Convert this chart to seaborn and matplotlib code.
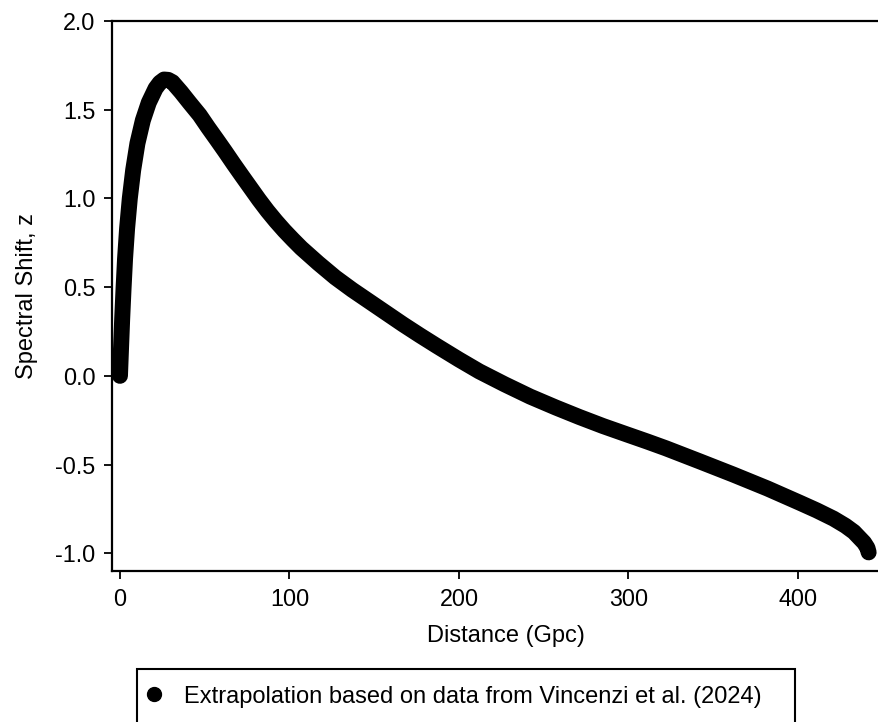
import matplotlib
matplotlib.use("Agg")
import numpy as np
import pandas as pd
import seaborn as sns
import matplotlib.pyplot as plt
from matplotlib.lines import Line2D

# Data
distance_gpc = [0, 0.6, 1.3, 2.1, 3.0, 4.2, 5.8, 7.8, 10.3, 13.5, 17.0, 21.0, 23.5,
                26.0, 28.5, 31.0, 36.0, 41.0, 47.0, 52.0, 57.0, 62.0, 67.0, 72.0,
                77.0, 82.0, 87.0, 92.0, 97.0, 102.0, 107.0, 117.0, 127.0, 137.0,
                147.0, 157.0, 167.0, 177.0, 187.0, 200.0, 212.0, 227.0, 242.0,
                257.0, 271.0, 285.0, 299.0, 311.0, 322.0, 342.0, 362.0, 382.0,
                401.0, 411.0, 421.0, 428.0, 433.0, 436.0, 439.0, 441.0, 441.7]
spectral_shift = [0.0, 0.15, 0.32, 0.49, 0.66, 0.83, 1.0, 1.16, 1.31, 1.44, 1.54,
                  1.62, 1.652, 1.67, 1.668, 1.655, 1.60, 1.54, 1.47, 1.40, 1.333,
                  1.265, 1.195, 1.127, 1.06, 0.993, 0.93, 0.872, 0.818, 0.768, 0.72,
                  0.635, 0.555, 0.485, 0.42, 0.355, 0.29, 0.228, 0.168, 0.092, 0.025,
                  -0.048, -0.117, -0.178, -0.232, -0.283, -0.33, -0.37, -0.408,
                  -0.482, -0.557, -0.635, -0.715, -0.758, -0.805, -0.845, -0.88,
                  -0.91, -0.94, -0.97, -0.995]

x_ticks = [0, 100, 200, 300, 400]
x_tick_labels = ["0", "100", "200", "300", "400"]
y_ticks = [-1.0, -0.5, 0.0, 0.5, 1.0, 1.5, 2.0]
y_tick_labels = ["-1.0", "-0.5", "0.0", "0.5", "1.0", "1.5", "2.0"]
x_label = "Distance (Gpc)"
y_label = "Spectral Shift, z"
legend_label = "Extrapolation based on data from Vincenzi et al. (2024)"

sns.set_theme(style="ticks")
plt.rcParams['font.family'] = ['Liberation Sans', 'DejaVu Sans']
plt.rcParams['axes.unicode_minus'] = False
for k in ['text.color', 'axes.labelcolor', 'xtick.color', 'ytick.color', 'axes.edgecolor']:
    plt.rcParams[k] = 'black'

W, H = 879, 722
fig = plt.figure(figsize=(W / 100, H / 100), dpi=100)
ax = fig.add_axes([112 / W, 1 - 571 / H, (900 - 112) / W, (571 - 21) / H])

df = pd.DataFrame({"distance": distance_gpc, "shift": spectral_shift})
sns.lineplot(data=df, x="distance", y="shift", ax=ax, color="black",
             linewidth=11.5, sort=False, estimator=None, legend=False,
             solid_capstyle="round", solid_joinstyle="round")

ax.set_xlim(-4.7, 460.2)
ax.set_ylim(-1.1, 2.0)
ax.set_xticks(x_ticks)
ax.set_xticklabels(x_tick_labels)
ax.set_yticks(y_ticks)
ax.set_yticklabels(y_tick_labels)
ax.tick_params(axis="both", length=6, width=1.3, color="black",
               labelsize=16.8, labelcolor="black", pad=6, direction="out")
for s in ax.spines.values():
    s.set_linewidth(1.6)
    s.set_color("black")
ax.set_xlabel(x_label, fontsize=17, color="black", labelpad=10)
ax.set_ylabel(y_label, fontsize=17, color="black", labelpad=12)

handle = Line2D([], [], marker="o", color="black", linestyle="none", markersize=10)
leg_top = 1 - 669 / H
leg_h = 0.07
leg = fig.legend(handles=[handle], labels=[legend_label], loc="upper left",
                 bbox_to_anchor=(137 / W, leg_top - leg_h, (795 - 137) / W, leg_h),
                 mode="expand", frameon=True, fancybox=False, edgecolor="black",
                 framealpha=1, fontsize=17, handlelength=0.05, handletextpad=1.22,
                 borderpad=0.7, borderaxespad=0, labelcolor="black")
leg.get_frame().set_linewidth(1.5)

fig.savefig("out.png", dpi=100)
